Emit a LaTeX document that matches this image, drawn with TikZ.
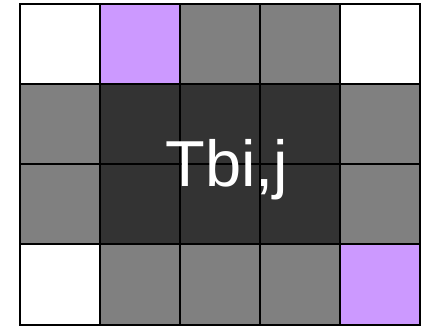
\documentclass[tikz,border=0pt]{standalone}
\usepackage{fontspec}
\setmainfont{Liberation Sans}
\definecolor{lilac}{HTML}{CC99FF}
\definecolor{darkc}{HTML}{333333}
\definecolor{midc}{HTML}{808080}
\begin{document}
\begin{tikzpicture}[x=1pt,y=-1pt,
  cell/.style={draw=black,line width=1.5pt}]
\useasboundingbox (0,0) rectangle (423,326);
\foreach \r/\cols in {0/{white,lilac,midc,midc,white},1/{midc,darkc,darkc,darkc,midc},2/{midc,darkc,darkc,darkc,midc},3/{white,midc,midc,midc,lilac}}{
  \foreach \c [count=\i from 0] in \cols {
    \path[cell,fill=\c] ({20+80*\i},{4+80*\r}) rectangle ({100+80*\i},{84+80*\r+(\r==3?1:0)});
  }
}
\node[text=white,font=\fontsize{65}{70}\selectfont,inner sep=0pt] (t) at (227,170) {Tbi,j};
\end{tikzpicture}
\end{document}
